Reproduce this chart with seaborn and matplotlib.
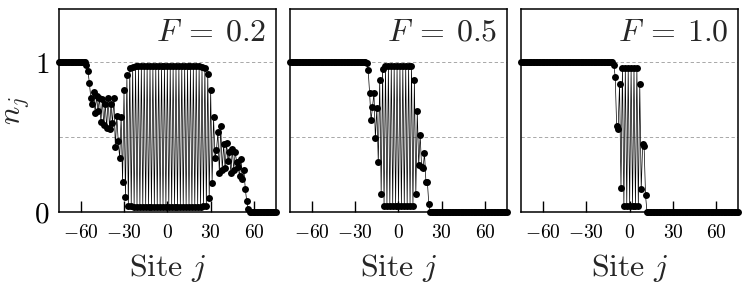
import matplotlib
matplotlib.use('Agg')
import matplotlib.pyplot as plt
import pandas as pd
import seaborn as sns
from matplotlib.ticker import FuncFormatter

# ---------------- data ----------------
sites = list(range(-75, 76))
field_labels = ['0.2', '0.5', '1.0']

n_F02 = [
    1, 1, 1, 1, 1, 1, 1, 1, 1, 1, 1, 1, 1, 1, 1, 1, 1, 1, 1,
    0.98, 0.94, 0.86, 0.76, 0.72, 0.80, 0.66, 0.77, 0.67, 0.76,
    0.60, 0.75, 0.58, 0.72, 0.56, 0.76, 0.55, 0.72, 0.59, 0.76,
    0.43, 0.64, 0.47, 0.36, 0.63, 0.20, 0.81, 0.10, 0.91, 0.04, 0.96,
    0.04, 0.965, 0.03, 0.97, 0.03, 0.97, 0.03, 0.97, 0.03, 0.97,
    0.03, 0.97, 0.03, 0.97, 0.03, 0.97, 0.03, 0.97, 0.03, 0.97,
    0.03, 0.97, 0.03, 0.97, 0.03, 0.97, 0.03, 0.97, 0.03, 0.97,
    0.03, 0.97, 0.03, 0.97, 0.03, 0.97, 0.03, 0.97, 0.03, 0.97,
    0.03, 0.97, 0.03, 0.97, 0.03, 0.97, 0.03, 0.97, 0.03, 0.965, 0.04,
    0.96, 0.04, 0.92, 0.09, 0.81, 0.19, 0.63, 0.36, 0.41, 0.53,
    0.26, 0.57, 0.28, 0.45, 0.29, 0.46, 0.34, 0.40, 0.26, 0.42,
    0.28, 0.40, 0.33, 0.30, 0.24, 0.35, 0.22, 0.28, 0.15, 0.07, 0.02,
    0, 0, 0, 0, 0, 0, 0, 0, 0, 0, 0, 0, 0, 0, 0, 0, 0, 0, 0,
]

n_F05 = [
    1, 1, 1, 1, 1, 1, 1, 1, 1, 1, 1, 1, 1, 1, 1, 1, 1, 1, 1, 1,
    1, 1, 1, 1, 1, 1, 1, 1, 1, 1, 1, 1, 1, 1, 1, 1, 1, 1, 1, 1,
    1, 1, 1, 1, 1, 1, 1, 1, 1, 1, 1, 1, 1,
    0.99, 0.945, 0.79, 0.61, 0.70, 0.79, 0.49, 0.69, 0.33, 0.88, 0.12, 0.95, 0.04,
    0.97, 0.04, 0.97, 0.04, 0.97, 0.04, 0.97, 0.04, 0.97, 0.04,
    0.97, 0.04, 0.97, 0.04, 0.97, 0.04, 0.97, 0.04, 0.97,
    0.04,
    0.88, 0.12, 0.67, 0.31, 0.51, 0.30, 0.29, 0.39, 0.20, 0.20, 0.05,
    0, 0, 0, 0, 0, 0, 0, 0, 0, 0, 0, 0, 0, 0, 0, 0, 0, 0, 0, 0,
    0, 0, 0, 0, 0, 0, 0, 0, 0, 0, 0, 0, 0, 0, 0, 0, 0, 0, 0, 0,
    0, 0, 0, 0, 0, 0, 0, 0, 0, 0, 0, 0, 0, 0,
]

n_F10 = [
    1, 1, 1, 1, 1, 1, 1, 1, 1, 1, 1, 1, 1, 1, 1, 1, 1, 1, 1, 1,
    1, 1, 1, 1, 1, 1, 1, 1, 1, 1, 1, 1, 1, 1, 1, 1, 1, 1, 1, 1,
    1, 1, 1, 1, 1, 1, 1, 1, 1, 1, 1, 1, 1, 1, 1, 1, 1, 1, 1, 1,
    1, 1, 1, 1,
    0.98, 0.90, 0.57, 0.55, 0.85, 0.16,
    0.96, 0.04, 0.96, 0.04, 0.96, 0.04, 0.96, 0.04, 0.96, 0.04, 0.96,
    0.04, 0.85, 0.15, 0.45, 0.44, 0.11,
    0, 0, 0, 0, 0, 0, 0, 0, 0, 0, 0, 0, 0, 0, 0, 0, 0, 0, 0, 0,
    0, 0, 0, 0, 0, 0, 0, 0, 0, 0, 0, 0, 0, 0, 0, 0, 0, 0, 0, 0,
    0, 0, 0, 0, 0, 0, 0, 0, 0, 0, 0, 0, 0, 0, 0, 0, 0, 0, 0, 0,
    0, 0, 0, 0,
]

x_ticks = [-60, -30, 0, 30, 60]
y_ticks = [0, 1]
guide_levels = [0.5, 1.0]

# ---------------- style ----------------
sns.set_theme(style='ticks')
plt.rcParams['font.family'] = ['DejaVu Serif']
plt.rcParams['mathtext.fontset'] = 'cm'

fig, axes = plt.subplots(1, 3, figsize=(7.48, 2.92), dpi=100, sharey=True)
fig.subplots_adjust(left=0.0789, right=0.9866, bottom=0.274, top=0.969, wspace=0.067)

series = [n_F02, n_F05, n_F10]
for i, (ax, F, n) in enumerate(zip(axes, field_labels, series)):
    df = pd.DataFrame({'site': sites, 'n': n})
    for lev in guide_levels:
        ax.axhline(lev, color='#9a9a9a', lw=0.6, ls=(0, (4, 3)), zorder=1)
    sns.lineplot(data=df, x='site', y='n', ax=ax, color='black', lw=0.5,
                 marker='o', markersize=5.0, markeredgewidth=0,
                 markeredgecolor='black', estimator=None, sort=False,
                 clip_on=False, zorder=3)
    ax.set_xlim(-75, 75)
    ax.set_ylim(0, 1.35)
    ax.set_xticks(x_ticks)
    ax.xaxis.set_major_formatter(FuncFormatter(lambda v, p: f'${int(v)}$'))
    ax.set_yticks(y_ticks)
    ax.yaxis.set_major_formatter(FuncFormatter(lambda v, p: f'${int(v)}$'))
    ax.tick_params(axis='x', direction='in', length=8, width=1.0,
                   labelsize=14, pad=9, colors='black')
    ax.tick_params(axis='y', length=0, labelsize=21, pad=7, colors='black')
    if i > 0:
        ax.tick_params(axis='y', labelleft=False)
    for s in ax.spines.values():
        s.set_visible(True)
        s.set_linewidth(1.1)
        s.set_color('black')
    ax.grid(False)
    ax.set_xlabel(r'$\mathrm{Site}\ j$', fontsize=23, labelpad=7)
    ax.set_ylabel('')
    ax.text(0.958, 0.844, rf'$F\:=\:{F}$', transform=ax.transAxes,
            ha='right', va='baseline', fontsize=23)

axes[0].set_ylabel(r'$n_j$', fontsize=22)
axes[0].yaxis.set_label_coords(-0.13, 0.5)

fig.savefig('out.png', dpi=100)
